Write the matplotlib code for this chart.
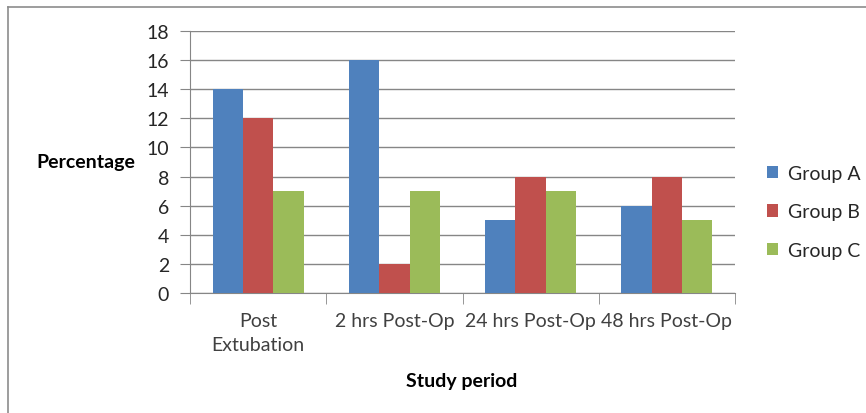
import matplotlib.pyplot as plt
import numpy as np
from matplotlib.lines import Line2D

periods = ['Post\nExtubation', '2 hrs Post-Op', '24 hrs Post-Op', '48 hrs Post-Op']
group_a = [14, 16, 5, 6]
group_b = [12, 2, 8, 8]
group_c = [7, 7, 7, 5]
groups = ['Group A', 'Group B', 'Group C']
colors = ['#4F81BD', '#C0504D', '#9BBB59']

plt.rcParams['font.family'] = ['Lato', 'DejaVu Sans']
plt.rcParams['font.size'] = 14

fig = plt.figure(figsize=(8.66, 4.14), dpi=100)
ax = fig.add_axes([190/866, 1-294/414, 545/866, 262/414])

x = np.arange(len(periods))
w = 0.223
for i, (vals, name) in enumerate(zip([group_a, group_b, group_c], groups)):
    ax.bar(x + (i-1)*w, vals, width=w, color=colors[i], label=name, zorder=3)

ax.set_xlim(-0.5, 3.5)
ax.set_ylim(0, 18)
ax.set_yticks(range(0, 19, 2))
ax.yaxis.grid(True, color='#868686', linewidth=1, zorder=0)

ax.set_xticks(x)
ax.set_xticklabels(periods, linespacing=1.5, color='#404040')
ax.set_xticks(np.arange(-0.5, 4, 1), minor=True)
ax.tick_params(axis='x', which='major', length=0, pad=14)
ax.tick_params(axis='x', which='minor', length=8, color='#868686')
ax.tick_params(axis='y', length=7, color='#868686', pad=8, labelcolor='#262626')

for s in ['top', 'right']:
    ax.spines[s].set_visible(False)
for s in ['left', 'bottom']:
    ax.spines[s].set_color('#868686')

fig.text(86/866, 1-163/414, 'Percentage', fontweight='bold', ha='center', va='center')
fig.text(462/866, 1-382/414, 'Study period', fontweight='bold', ha='center', va='center')

leg = ax.legend(loc='center left', bbox_to_anchor=(1.026, 0.31), frameon=False,
                handlelength=0.6, handleheight=0.6, handletextpad=0.5,
                labelspacing=1.1)
for t in leg.get_texts():
    t.set_color('#262626')

# thin frame along the top and left edges
fig.add_artist(Line2D([8/866, 1], [1-8/414, 1-8/414], color='#8c8c8c', lw=1.2))
fig.add_artist(Line2D([8/866, 8/866], [0, 1-8/414], color='#8c8c8c', lw=1.2))

fig.savefig('out.png', dpi=100)
